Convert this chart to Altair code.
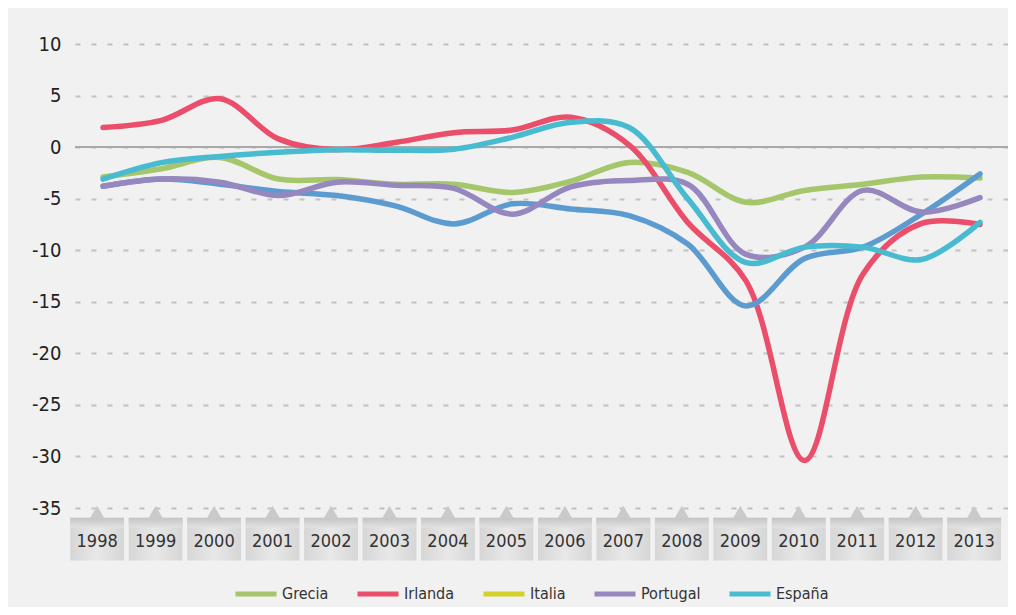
import altair as alt
import pandas as pd

# ---------------- data ----------------
years = [1998, 1999, 2000, 2001, 2002, 2003, 2004, 2005,
         2006, 2007, 2008, 2009, 2010, 2011, 2012, 2013]

series_names = ["Grecia", "Irlanda", "Italia", "Portugal", "España"]

grecia = [-2.9, -2.1, -1.0, -3.1, -3.15, -3.6, -3.6, -4.4,
          -3.3, -1.5, -2.45, -5.35, -4.2, -3.6, -2.9, -3.0]
irlanda = [1.9, 2.6, 4.7, 0.8, -0.25, 0.45, 1.4, 1.65,
           2.9, 0.2, -7.3, -13.0, -30.4, -12.3, -7.4, -7.5]
italia = [-3.8, -3.1, -3.6, -4.3, -4.7, -5.7, -7.45, -5.5,
          -6.0, -6.65, -9.4, -15.4, -10.8, -9.7, -6.5, -2.6]
portugal = [-3.8, -3.1, -3.4, -4.7, -3.4, -3.7, -4.0, -6.5,
            -3.85, -3.25, -3.6, -10.4, -9.7, -4.2, -6.3, -4.9]
espana = [-3.1, -1.5, -0.9, -0.5, -0.25, -0.3, -0.2, 0.95,
          2.4, 1.9, -5.0, -11.2, -9.7, -9.7, -10.9, -7.3]

y_ticks = [10, 5, 0, -5, -10, -15, -20, -25, -30, -35]

line_colors = ["#a6c66b", "#ea4e6b", "#5c9bd0", "#9787bf", "#48bbd0"]
legend_colors = ["#a6c66b", "#ea4e6b", "#d5d12b", "#9787bf", "#48bbd0"]

# ---------------- tables ----------------
rows = []
for name, vals in zip(series_names, [grecia, irlanda, italia, portugal, espana]):
    for yr, v in zip(years, vals):
        rows.append({"serie": name, "anio": yr, "valor": v})
df = pd.DataFrame(rows)
years_df = pd.DataFrame({"anio": years, "label": [str(y) for y in years]})
zero_df = pd.DataFrame({"valor": [0]})

FONT = "'DejaVu Sans Condensed', 'Liberation Sans Narrow', Roboto, sans-serif"

xscale = alt.Scale(domain=[1997.521, 2013.479], nice=False, zero=False)
yscale = alt.Scale(domain=[-35, 10], nice=False, zero=False)

yaxis = alt.Axis(values=y_ticks, title=None, domain=False, ticks=False,
                 labelExpr="'' + datum.value",
                 labelFontSize=20, labelColor="#222222", labelFont=FONT,
                 labelPadding=14, grid=True, gridColor="#c2c2c2",
                 gridDash=[5, 11], gridWidth=2)

# ---------------- decorative year boxes ----------------
box_base = alt.Chart(years_df).transform_calculate(
    x0="datum.anio - 0.56", x1="datum.anio + 0.36", xc="datum.anio - 0.1"
)

box_body = box_base.mark_rect(
    fill=alt.Gradient(
        gradient="linear",
        stops=[alt.GradientStop(color="#d6d6d6", offset=0),
               alt.GradientStop(color="#e8e8e8", offset=0.5),
               alt.GradientStop(color="#d6d6d6", offset=1)],
        x1=0, x2=1, y1=0, y2=0)
).encode(
    x=alt.X("x0:Q", scale=xscale, axis=None),
    x2="x1:Q",
    y=alt.Y(datum=-35.95, scale=yscale, axis=yaxis),
    y2=alt.Y2(datum=-40.1),
)

box_shadow = box_base.mark_rect(
    fill=alt.Gradient(
        gradient="linear",
        stops=[alt.GradientStop(color="#c4c4c4", offset=0),
               alt.GradientStop(color="#e2e2e2", offset=1)],
        x1=0, x2=0, y1=0, y2=1)
).encode(
    x=alt.X("x0:Q", scale=xscale, axis=None),
    x2="x1:Q",
    y=alt.Y(datum=-35.95, scale=yscale),
    y2=alt.Y2(datum=-36.9),
)

box_peak = box_base.mark_point(
    shape="triangle-up", filled=True, size=220, color="#cacaca", opacity=1
).encode(
    x=alt.X("xc:Q", scale=xscale, axis=None),
    y=alt.Y(datum=-35.4, scale=yscale),
)

box_text = box_base.mark_text(
    font=FONT, fontSize=18, color="#333333", baseline="middle", align="center"
).encode(
    x=alt.X("xc:Q", scale=xscale, axis=None),
    y=alt.Y(datum=-38.3, scale=yscale),
    text="label:N",
)

# ---------------- zero line ----------------
zero_rule = alt.Chart(zero_df).mark_rule(color="#a9a9a9", strokeWidth=2).encode(
    y=alt.Y("valor:Q", scale=yscale)
)

# ---------------- data lines ----------------
lines = alt.Chart(df).mark_line(
    strokeWidth=5.5, interpolate="catmull-rom", strokeCap="round", strokeJoin="round"
).encode(
    x=alt.X("anio:Q", scale=xscale, axis=None),
    y=alt.Y("valor:Q", scale=yscale),
    color=alt.Color("serie:N", scale=alt.Scale(domain=series_names, range=line_colors),
                    legend=None),
    detail="serie:N",
)

# ---------------- legend (colors as printed in the original legend) ----------------
legend_layer = alt.Chart(df).transform_filter("false").mark_line(strokeWidth=5).encode(
    x=alt.X("anio:Q", scale=xscale, axis=None),
    y=alt.Y("valor:Q", scale=yscale),
    color=alt.Color(
        "serie:N",
        scale=alt.Scale(domain=series_names, range=legend_colors),
        legend=alt.Legend(
            orient="none", legendX=158, legendY=527, direction="horizontal",
            columns=5, title=None, symbolType="stroke", symbolSize=1681,
            symbolStrokeWidth=5, symbolOpacity=1, labelFont=FONT,
            labelFontSize=16, labelColor="#333333", labelOffset=3,
            columnPadding=18,
        ),
    ),
)

chart = alt.layer(
    box_body, box_shadow, box_peak, box_text, zero_rule, lines, legend_layer
).resolve_scale(color="independent").properties(
    width=933, height=464,
    background="#f1f1f1",
    padding={"left": 67, "top": 36, "right": 0, "bottom": 99},
    autosize=alt.AutoSizeParams(type="none"),
).configure_view(stroke=None)

chart.save("out.html", embed_options={"renderer": "svg", "actions": False})
